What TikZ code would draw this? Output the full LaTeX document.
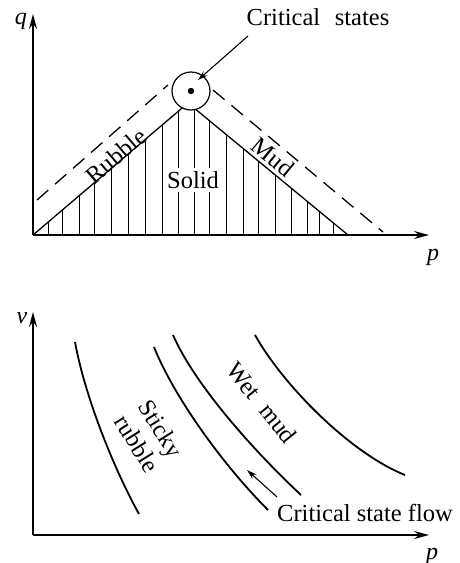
\documentclass[tikz,border=0pt]{standalone}
\usepackage{fontspec}
\setmainfont{Liberation Serif}
\usetikzlibrary{arrows.meta}
\begin{document}
\begin{tikzpicture}[x=1pt,y=-1pt,
  lbl/.style={font=\fontsize{24.5}{28}\selectfont, inner sep=1pt},
  axislbl/.style={font=\fontsize{24}{28}\selectfont\itshape, inner sep=0pt},
  axis/.style={line width=1.8pt, -{Stealth[length=15pt,width=8pt,inset=5pt]}},
  edge/.style={line width=1.3pt},
  hatch/.style={line width=1pt},
  dashline/.style={line width=1.3pt, dash pattern=on 15pt off 9pt},
  curve/.style={line width=1.8pt},
  ptr/.style={line width=1.1pt, -{Stealth[length=10pt,width=6pt,inset=3pt]}}]
\useasboundingbox (0,0) rectangle (459,563);
% ---------- top panel ----------
\coordinate (O1) at (33,235);
\coordinate (qtop) at (33,14);
\coordinate (ptop) at (429,235);
\coordinate (apex) at (188,103);
\coordinate (R1) at (348,235);
\begin{scope}
  \clip (O1) -- (apex) -- (R1) -- cycle;
  \foreach \xx in {48,62,79,94,111,128,145,162,178,194,209,226,243,258,275,291,307,319,333}
    \draw[hatch] (\xx,236) -- (\xx,90);
\end{scope}
\draw[edge] (O1) -- (apex) -- (R1);
\coordinate (dl1) at (37,200);
\coordinate (dl2) at (168,85);
\coordinate (dr1) at (213,90);
\coordinate (dr2) at (383,232);
\draw[dashline] (dl1) -- (dl2);
\draw[dashline] (dr1) -- (dr2);
\node[lbl, fill=white, inner sep=3pt] (solid) at (193,180) {Solid};
\node[draw, circle, fill=white, minimum size=38pt, inner sep=0pt, line width=1.2pt] (crit) at (191,91) {};
\fill (crit.center) circle (3.2pt);
\node[lbl, rotate=40.5] (rubble) at (116,156) {Rubble};
\node[lbl, rotate=-39.6] (mud) at (273,157) {Mud};
\node[lbl] (cs) at (318,17) {Critical\hspace{0.35em} states};
\coordinate (cstail) at (248,36);
\coordinate (cstip) at (198,80);
\draw[ptr] (cstail) -- (cstip);
\draw[axis] (O1) -- (qtop);
\draw[axis] (O1) -- (ptop);
\node[axislbl] (q) at (21,21) {q};
\node[axislbl] (p1) at (433,257) {p};
% ---------- bottom panel ----------
\coordinate (O2) at (33,535);
\coordinate (vtop) at (33,312);
\coordinate (ptop2) at (429,535);
\draw[curve] (75,342) .. controls (85,397) and (114,469) .. (139,514);
\draw[curve] (154,347) .. controls (174,397) and (223,465) .. (268,510);
\draw[curve] (173,335) .. controls (195,385) and (253,450) .. (301,495);
\draw[curve] (255,335) .. controls (283,385) and (350,453) .. (405,475);
\coordinate (ftail) at (277,497);
\coordinate (ftip) at (247,470);
\draw[ptr] (ftail) -- (ftip);
\node[lbl, rotate=-58, align=center] (sticky) at (149,436) {Sticky\\rubble};
\node[lbl, rotate=-51] (wet) at (262,403) {Wet\hspace{0.3em} mud};
\node[lbl, anchor=west] (csf) at (276,513) {Critical state flow};
\draw[axis] (O2) -- (vtop);
\draw[axis] (O2) -- (ptop2);
\node[axislbl] (v) at (22,318) {v};
\node[axislbl] (p2) at (432,556) {p};
\end{tikzpicture}
\end{document}
